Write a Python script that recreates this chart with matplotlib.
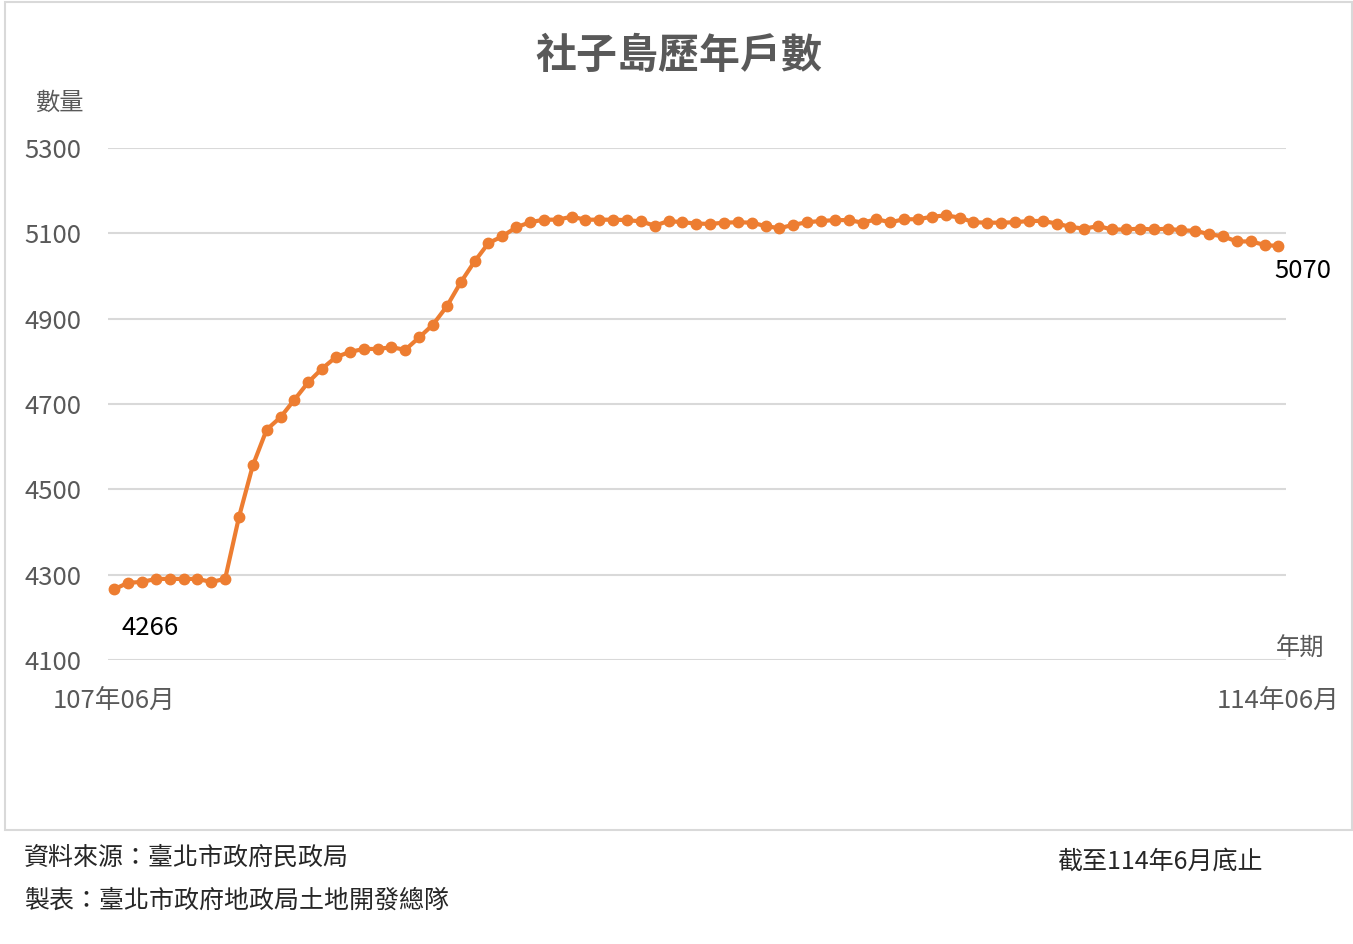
import matplotlib
matplotlib.use("Agg")
import matplotlib.pyplot as plt
from matplotlib.patches import Rectangle

plt.rcParams['font.family'] = ['Noto Sans CJK TC', 'DejaVu Sans']

# 107年06月 .. 114年06月, monthly household counts
households = [
    4266, 4281, 4283, 4290, 4290, 4290, 4290, 4283, 4290, 4435,
    4556, 4640, 4669, 4710, 4751, 4783, 4810, 4822, 4829, 4829,
    4833, 4827, 4856, 4886, 4929, 4985, 5034, 5077, 5093, 5114,
    5126, 5132, 5132, 5139, 5132, 5132, 5132, 5131, 5128, 5118,
    5129, 5126, 5123, 5122, 5125, 5126, 5125, 5117, 5112, 5120,
    5126, 5129, 5131, 5131, 5125, 5133, 5126, 5133, 5133, 5139,
    5142, 5137, 5126, 5125, 5125, 5126, 5129, 5129, 5123, 5115,
    5111, 5117, 5109, 5109, 5111, 5109, 5111, 5107, 5106, 5098,
    5093, 5081, 5081, 5073, 5070,
]
x_labels = ["107年06月", "114年06月"]
y_ticks = [4100, 4300, 4500, 4700, 4900, 5100, 5300]

W, H = 1353, 944
ORANGE = "#ED7D31"
GRID = "#D9D9D9"
GRAY = "#595959"


def fx(px):
    return px / W


def fy(py):
    return 1 - py / H


fig = plt.figure(figsize=(W / 100, H / 100), dpi=100)

# chart border
fig.patches.append(Rectangle((fx(5), fy(830)), fx(1347), 828 / H, transform=fig.transFigure,
                             fill=False, edgecolor=GRID, linewidth=1.5))

ax = fig.add_axes([fx(108), fy(660), fx(1286 - 108), (660 - 148) / H])
xs = list(range(len(households)))
ax.plot(xs, households, color=ORANGE, linewidth=3, marker="o", markersize=7.5, zorder=3)

ax.set_ylim(4100, 5300)
ax.set_xlim(-0.45, len(households) - 1 + 0.55)
ax.set_yticks(y_ticks)
ax.set_yticklabels([str(v) for v in y_ticks], fontsize=18.5, color=GRAY)
ax.tick_params(axis="y", length=0, pad=19)
ax.set_xticks([0, len(households) - 1])
ax.set_xticklabels(x_labels, fontsize=18.5, color=GRAY)
ax.tick_params(axis="x", length=0, pad=20)
ax.grid(axis="y", color=GRID, linewidth=1.5)
for s in ax.spines.values():
    s.set_visible(False)

# data labels on first and last point
ax.annotate(str(households[0]), (0, households[0]), xytext=(5, -28), textcoords="offset points",
            ha="left", va="center", fontsize=18.5, color="black")
ax.annotate(str(households[-1]), (xs[-1], households[-1]), xytext=(-3, -18), textcoords="offset points",
            ha="left", va="center", fontsize=18.5, color="black")

fig.text(fx(679), fy(56), "社子島歷年戶數", ha="center", va="center", fontsize=29.5,
         fontweight="bold", color=GRAY)
fig.text(fx(35), fy(103), "數量", ha="left", va="center", fontsize=17.5, color=GRAY)
fig.text(fx(1324), fy(649), "年期", ha="right", va="center", fontsize=17.5, color=GRAY)

fig.text(fx(24), fy(858), "資料來源：臺北市政府民政局", ha="left", va="center", fontsize=18, color="#262626")
fig.text(fx(24), fy(901), "製表：臺北市政府地政局土地開發總隊", ha="left", va="center", fontsize=18, color="#262626")
fig.text(fx(1263), fy(862), "截至114年6月底止", ha="right", va="center", fontsize=18, color="#262626")

fig.savefig("out.png", dpi=100)
